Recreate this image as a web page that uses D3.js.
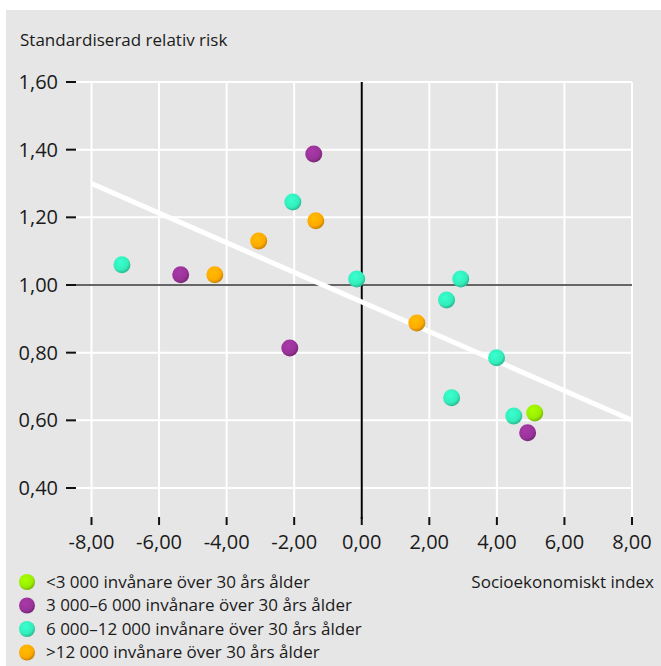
<!DOCTYPE html>
<html>
<head>
<meta charset="utf-8">
<script src="https://cdn.jsdelivr.net/npm/d3@7"></script>
<style>
  body { margin: 0; background: #fff; }
  svg { display: block; }
  text { font-family: "Open Sans", "DejaVu Sans", sans-serif; fill: #1a1a1a; }
</style>
</head>
<body>
<div id="viz"></div>
<script>
// data
const groups = [
    "<3 000 invånare över 30 års ålder",
    "3 000–6 000 invånare över 30 års ålder",
    "6 000–12 000 invånare över 30 års ålder",
    ">12 000 invånare över 30 års ålder"
];
const groupColors = ["#99ee00", "#993399", "#33eebb", "#ffaa00"];

const pointX     = [-7.1, -5.36, -4.35, -3.05, -2.04, -1.42, -1.36, -2.13, -0.15, 1.63, 2.51, 2.93, 3.99, 2.66, 4.5, 5.12, 4.91];
const pointY     = [1.06, 1.03, 1.03, 1.13, 1.245, 1.387, 1.19, 0.814, 1.018, 0.888, 0.956, 1.018, 0.785, 0.667, 0.613, 0.622, 0.563];
const pointGroup = [2, 1, 3, 3, 2, 1, 3, 1, 2, 3, 2, 2, 2, 2, 2, 0, 1];

const trendX = [-8, 8];
const trendY = [1.30, 0.60];

const xTicks = [-8, -6, -4, -2, 0, 2, 4, 6, 8];
const yTicks = [0.4, 0.6, 0.8, 1.0, 1.2, 1.4, 1.6];

const W = 661, H = 666;
const svg = d3.select("#viz").append("svg").attr("width", W).attr("height", H);

// grå bakgrund
svg.append("rect")
    .attr("x", 6).attr("y", 10)
    .attr("width", W - 6).attr("height", H - 10)
    .attr("fill", "#e6e6e6");

const x = d3.scaleLinear().domain([-8, 8]).range([91.5, 632]);
const y = d3.scaleLinear().domain([0.4, 1.6]).range([488, 82]);
const yBottom = 519;

const sv = d3.formatLocale({ decimal: ",", thousands: " ", grouping: [3], currency: ["", ""], minus: "-" });
const fmt = sv.format(".2f");

// gradienter för punkterna
const defs = svg.append("defs");
groupColors.forEach((c, i) => {
    const g = defs.append("radialGradient")
        .attr("id", "dot" + i)
        .attr("cx", "40%").attr("cy", "35%").attr("r", "65%");
    g.append("stop").attr("offset", "0%").attr("stop-color", d3.color(c).brighter(0.3));
    g.append("stop").attr("offset", "70%").attr("stop-color", c);
    g.append("stop").attr("offset", "100%").attr("stop-color", d3.color(c).darker(0.7));
});

// rutnät
svg.append("g").selectAll("line").data(yTicks).join("line")
    .attr("x1", 76).attr("x2", x(8))
    .attr("y1", d => y(d)).attr("y2", d => y(d))
    .attr("stroke", "#fff").attr("stroke-width", 2);

svg.append("g").selectAll("line").data(xTicks).join("line")
    .attr("x1", d => x(d)).attr("x2", d => x(d))
    .attr("y1", y(1.6)).attr("y2", yBottom)
    .attr("stroke", "#fff").attr("stroke-width", 2);

// y-axelns streck och etiketter
const yAxis = svg.append("g");
yAxis.selectAll("line").data(yTicks).join("line")
    .attr("x1", 66).attr("x2", 76)
    .attr("y1", d => y(d)).attr("y2", d => y(d))
    .attr("stroke", "#111").attr("stroke-width", 2);
yAxis.selectAll("text").data(yTicks).join("text")
    .attr("x", 58).attr("y", d => y(d))
    .attr("dy", "0.35em")
    .attr("text-anchor", "end")
    .attr("font-size", 20)
    .text(d => fmt(d));

// x-axelns streck och etiketter
const xAxis = svg.append("g");
xAxis.selectAll("line").data(xTicks).join("line")
    .attr("x1", d => x(d)).attr("x2", d => x(d))
    .attr("y1", yBottom - 2).attr("y2", yBottom + 6)
    .attr("stroke", "#111").attr("stroke-width", 2);
xAxis.selectAll("text").data(xTicks).join("text")
    .attr("x", d => x(d)).attr("y", 549)
    .attr("text-anchor", "middle")
    .attr("font-size", 20)
    .text(d => fmt(d));

// referenslinjer
svg.append("line")
    .attr("x1", 76).attr("x2", x(8))
    .attr("y1", y(1)).attr("y2", y(1))
    .attr("stroke", "#333").attr("stroke-width", 1.5);
svg.append("line")
    .attr("x1", x(0)).attr("x2", x(0))
    .attr("y1", y(1.6)).attr("y2", yBottom)
    .attr("stroke", "#000").attr("stroke-width", 2);

// trendlinje
svg.append("line")
    .attr("x1", x(trendX[0])).attr("y1", y(trendY[0]))
    .attr("x2", x(trendX[1])).attr("y2", y(trendY[1]))
    .attr("stroke", "#fff").attr("stroke-width", 5);

// punkter
svg.append("g").selectAll("circle").data(pointX).join("circle")
    .attr("cx", d => x(d))
    .attr("cy", (d, i) => y(pointY[i]))
    .attr("r", 8.5)
    .attr("fill", (d, i) => `url(#dot${pointGroup[i]})`);

// titlar
svg.append("text")
    .attr("x", 20).attr("y", 46)
    .attr("font-size", 17)
    .text("Standardiserad relativ risk");
svg.append("text")
    .attr("x", 654).attr("y", 588)
    .attr("text-anchor", "end")
    .attr("font-size", 17)
    .text("Socioekonomiskt index");

// teckenförklaring
const legend = svg.append("g").selectAll("g").data(groups).join("g")
    .attr("transform", (d, i) => `translate(27,${582 + i * 23.5})`);
legend.append("circle")
    .attr("r", 8)
    .attr("fill", (d, i) => `url(#dot${i})`);
legend.append("text")
    .attr("x", 19).attr("dy", "0.35em")
    .attr("font-size", 17)
    .text(d => d);
</script>
</body>
</html>
